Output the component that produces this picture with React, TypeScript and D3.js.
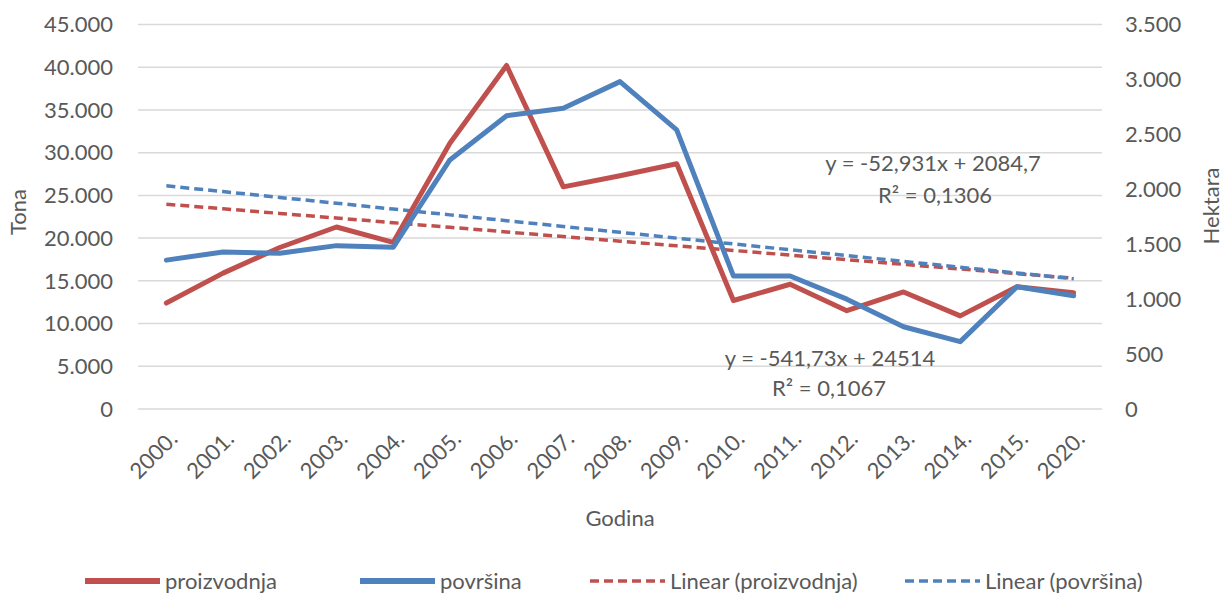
import React from "react";
import * as d3 from "d3";

const categories = ["2000.", "2001.", "2002.", "2003.", "2004.", "2005.", "2006.", "2007.", "2008.", "2009.", "2010.", "2011.", "2012.", "2013.", "2014.", "2015.", "2020."];
const proizvodnja = [12400, 15900, 18900, 21300, 19500, 31100, 40200, 26000, 27300, 28700, 12700, 14600, 11500, 13700, 10900, 14300, 13600];
const povrsina = [1355, 1430, 1417, 1487, 1472, 2267, 2670, 2737, 2980, 2540, 1211, 1211, 1000, 749, 613, 1113, 1031];
const leftTicks = [0, 5000, 10000, 15000, 20000, 25000, 30000, 35000, 40000, 45000];
const rightTicks = [0, 500, 1000, 1500, 2000, 2500, 3000, 3500];
// Trendline equations (x = 1..n)
const trendProizvodnja = { slope: -541.73, intercept: 24514, label: "y = -541,73x + 24514", r2: "R² = 0,1067" };
const trendPovrsina = { slope: -52.931, intercept: 2084.7, label: "y = -52,931x + 2084,7", r2: "R² = 0,1306" };
const legendItems = ["proizvodnja", "površina", "Linear (proizvodnja)", "Linear (površina)"];

const RED = "#C0504D";
const BLUE = "#4F81BD";
const TEXT = "#595959";
const GRID = "#D9D9D9";
const FONT = "Lato, 'Open Sans', sans-serif";

export default function App() {
  const W = 1226, H = 601;
  const left = 138, right = 1102, top = 24.5, bottom = 409;
  const x = d3.scaleBand<string>().domain(categories).range([left, right]);
  const cx = (c: string) => (x(c) as number) + x.bandwidth() / 2;
  const yL = d3.scaleLinear().domain([0, 45000]).range([bottom, top]);
  const yR = d3.scaleLinear().domain([0, 3500]).range([bottom, top]);

  const lineL = d3.line<number>().x((_, i) => cx(categories[i])).y((d) => yL(d));
  const lineR = d3.line<number>().x((_, i) => cx(categories[i])).y((d) => yR(d));

  const trendL = categories.map((_, i) => trendProizvodnja.slope * (i + 1) + trendProizvodnja.intercept);
  const trendR = categories.map((_, i) => trendPovrsina.slope * (i + 1) + trendPovrsina.intercept);

  const fmt = (v: number) => (v === 0 ? "0" : d3.format(",")(v).replace(/,/g, "."));

  const legendX = [85, 360, 590, 905];
  const legendY = 581;

  return (
    <svg width={W} height={H} style={{ position: "absolute", left: 0, top: 0, background: "#fff" }} fontFamily={FONT}>
      {leftTicks.map((t) => (
        <line key={"g" + t} x1={left} x2={right} y1={yL(t)} y2={yL(t)} stroke={GRID} strokeWidth={1.5} />
      ))}
      {leftTicks.map((t) => (
        <text key={"l" + t} x={113} y={yL(t)} dy="0.35em" textAnchor="end" fontSize={22} fill={TEXT}>{fmt(t)}</text>
      ))}
      {rightTicks.map((t) => (
        <text key={"r" + t} x={1125} y={yR(t)} dy="0.35em" textAnchor="start" fontSize={22} fill={TEXT}>{fmt(t)}</text>
      ))}
      {categories.map((c) => (
        <text key={"x" + c} transform={`translate(${cx(c) + 7},${435}) rotate(-45)`} textAnchor="end" dy="0.35em" fontSize={22} fill={TEXT}>{c}</text>
      ))}
      <text transform="translate(26,212) rotate(-90)" textAnchor="middle" fontSize={22} fill={TEXT}>Tona</text>
      <text transform="translate(1219,206) rotate(-90)" textAnchor="middle" fontSize={22} fill={TEXT}>Hektara</text>
      <text x={620} y={518} dy="0.35em" textAnchor="middle" fontSize={22} fill={TEXT}>Godina</text>

      <path d={lineL(trendL) ?? ""} fill="none" stroke={RED} strokeWidth={3.5} strokeDasharray="9,5" />
      <path d={lineR(trendR) ?? ""} fill="none" stroke={BLUE} strokeWidth={3.5} strokeDasharray="9,5" />
      <path d={lineL(proizvodnja) ?? ""} fill="none" stroke={RED} strokeWidth={5} strokeLinejoin="round" strokeLinecap="round" />
      <path d={lineR(povrsina) ?? ""} fill="none" stroke={BLUE} strokeWidth={5} strokeLinejoin="round" strokeLinecap="round" />

      <text x={933} y={163} dy="0.35em" textAnchor="middle" fontSize={22} fill={TEXT}>{trendPovrsina.label}</text>
      <text x={935} y={195} dy="0.35em" textAnchor="middle" fontSize={22} fill={TEXT}>{trendPovrsina.r2}</text>
      <text x={830} y={358} dy="0.35em" textAnchor="middle" fontSize={22} fill={TEXT}>{trendProizvodnja.label}</text>
      <text x={829} y={388} dy="0.35em" textAnchor="middle" fontSize={22} fill={TEXT}>{trendProizvodnja.r2}</text>

      {legendItems.map((item, i) => (
        <g key={item}>
          <line x1={legendX[i]} x2={legendX[i] + 75} y1={legendY} y2={legendY}
            stroke={i % 2 === 0 ? RED : BLUE} strokeWidth={i < 2 ? 6 : 3.5} strokeDasharray={i < 2 ? undefined : "9,5"} />
          <text x={legendX[i] + 80} y={legendY} dy="0.35em" fontSize={22} fill={TEXT}>{item}</text>
        </g>
      ))}
    </svg>
  );
}
